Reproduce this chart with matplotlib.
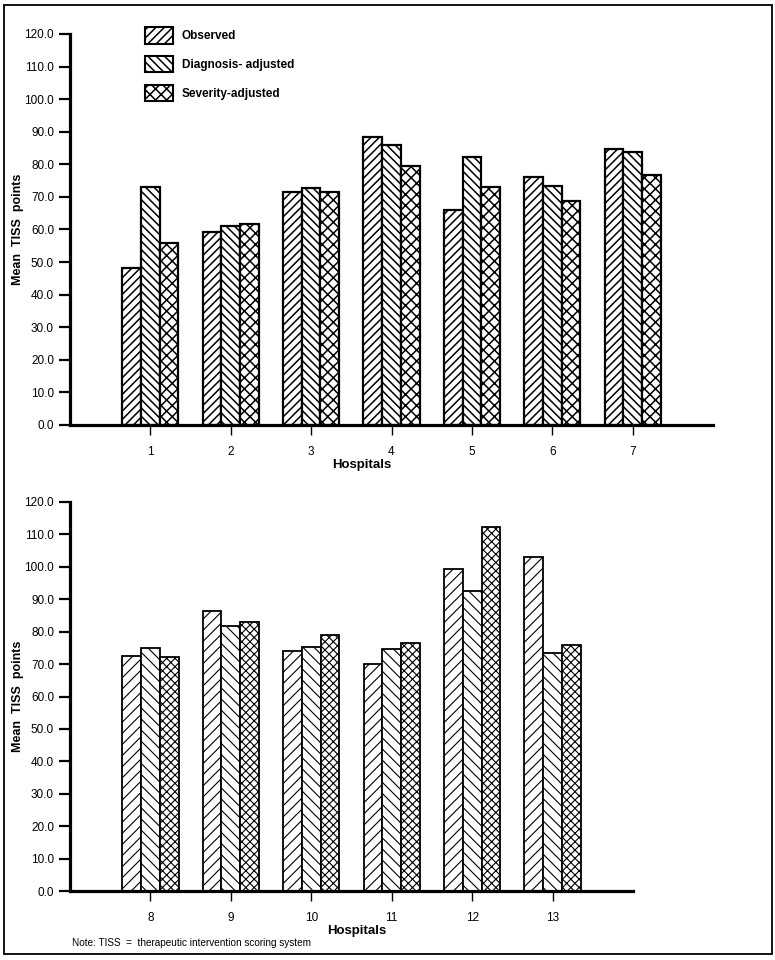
import numpy as np
import matplotlib
matplotlib.use("Agg")
import matplotlib.pyplot as plt
from matplotlib.patches import Rectangle, Patch

plt.rcParams['font.family'] = ['Liberation Sans', 'DejaVu Sans']

# data
hosp_top = [1, 2, 3, 4, 5, 6, 7]
observed_top = [48.3, 59.3, 71.4, 88.3, 66.0, 76.1, 84.6]
diagnosis_top = [72.9, 61.1, 72.8, 85.9, 82.2, 73.4, 83.8]
severity_top = [55.9, 61.8, 71.4, 79.5, 73.1, 68.8, 76.8]

hosp_bot = [8, 9, 10, 11, 12, 13]
observed_bot = [72.4, 86.5, 73.9, 70.1, 99.3, 102.9]
diagnosis_bot = [74.9, 81.9, 75.2, 74.8, 92.5, 73.3]
severity_bot = [72.1, 82.9, 79.0, 76.4, 112.2, 75.9]

series_names = ["Observed", "Diagnosis- adjusted", "Severity-adjusted"]
yticks = np.arange(0, 121, 10)


def draw_panel(ax, hosp, obs, diag, sev, xlim, hatches, edge_lw, hatch_lw):
    x = np.array(hosp, dtype=float)
    w = 0.233
    for k, (vals, h) in enumerate(zip([obs, diag, sev], hatches)):
        bars = ax.bar(x + (k - 1) * w, vals, w, color="white", edgecolor="black",
                      linewidth=edge_lw, hatch=h, zorder=2)
        for b in bars:
            if hasattr(b, "set_hatch_linewidth"):
                b.set_hatch_linewidth(hatch_lw)
    ax.set_xlim(*xlim)
    ax.set_ylim(0, 120)
    ax.set_yticks(yticks)
    ax.set_yticklabels(["%.1f" % v for v in yticks], fontsize=8.5)
    ax.set_xticks(x)
    ax.set_xticklabels([str(h) for h in hosp], fontsize=8.5)
    for s in ["top", "right"]:
        ax.spines[s].set_visible(False)
    ax.spines["left"].set_linewidth(2.3)
    ax.spines["bottom"].set_linewidth(2.3)
    ax.tick_params(axis="y", direction="out", length=8, width=1.6, pad=3.5)
    ax.tick_params(axis="x", direction="out", length=7, width=1.0, pad=8)
    ax.set_ylabel("Mean  TISS  points", fontsize=9, fontweight="bold")
    ax.set_xlabel("Hospitals", fontsize=9.5, fontweight="bold", va="top")
    ax.patch.set_visible(False)


fig = plt.figure(figsize=(7.75, 9.6), dpi=100)

# top panel
ax1 = fig.add_axes([70 / 775, 1 - 425 / 960, 643 / 775, 391 / 960])
plt.rcParams['hatch.linewidth'] = 1.1
draw_panel(ax1, hosp_top, observed_top, diagnosis_top, severity_top, (0, 8),
           ["////", "\\\\\\\\", "xxx"], 1.6, 1.1)
ax1.yaxis.set_label_coords(-46 / 643, 0.5)
ax1.xaxis.set_label_coords(0.454, -34 / 391)

# bottom panel
ax2 = fig.add_axes([70 / 775, 1 - 891 / 960, 563 / 775, 389 / 960])
draw_panel(ax2, hosp_bot, observed_bot, diagnosis_bot, severity_bot, (7, 14),
           ["///", "\\\\\\", "xxxx"], 1.3, 0.8)
ax2.yaxis.set_label_coords(-46 / 563, 0.5)
ax2.xaxis.set_label_coords(0.51, -34 / 389)

# legend
handles = [Patch(facecolor="white", edgecolor="black", linewidth=1.5, hatch=h)
           for h in ["////", "\\\\\\\\", "xxx"]]
leg = fig.legend(handles, series_names, loc="upper left",
                 bbox_to_anchor=(145 / 775, 1 - 27 / 960), bbox_transform=fig.transFigure,
                 frameon=False, borderpad=0, borderaxespad=0,
                 handlelength=2.37, handleheight=1.78, labelspacing=1.05,
                 handletextpad=0.76, prop={"size": 8.5, "weight": "bold"})

fig.text(72 / 775, 1 - 943 / 960, "Note: TISS  =  therapeutic intervention scoring system",
         fontsize=7.2, va="center", ha="left")

# outer frame
fig.patches.append(Rectangle((4 / 775, 1 - 954 / 960), 768 / 775, 949 / 960,
                             transform=fig.transFigure, fill=False,
                             edgecolor="black", linewidth=1.3))

fig.savefig("out.png", dpi=100)
